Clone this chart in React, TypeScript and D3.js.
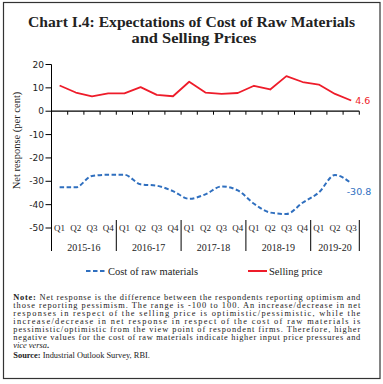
import React from "react";
import * as d3 from "d3";

const quarters = ["Q1","Q2","Q3","Q4","Q1","Q2","Q3","Q4","Q1","Q2","Q3","Q4","Q1","Q2","Q3","Q4","Q1","Q2","Q3"];
const years = ["2015-16","2016-17","2017-18","2018-19","2019-20"];
const yearSpans = [4,4,4,4,3];
const costRaw = [-32.6,-32.6,-27.7,-27.2,-27.2,-31.3,-31.9,-34.2,-37.5,-35.6,-32.2,-33.9,-39.6,-43.4,-44.0,-39.2,-34.8,-27.3,-30.8];
const sellingPrice = [11.0,8.0,6.4,7.6,7.6,10.3,7.0,6.4,12.6,8.0,7.4,7.8,10.9,9.3,15.0,12.5,11.4,7.4,4.6];
const yTicks = [20,10,0,-10,-20,-30,-40,-50];
const noteLines = [
  "Net response is the difference between the respondents reporting optimism and",
  "those reporting pessimism. The range is -100 to 100. An increase/decrease in net",
  "responses in respect of the selling price is optimistic/pessimistic, while the",
  "increase/decrease in net response in respect of the cost of raw materials is",
  "pessimistic/optimistic from the view point of respondent firms. Therefore, higher",
  "negative values for the cost of raw materials indicate higher input price pressures and",
];

const BLUE = "#2f6fbf";
const RED = "#ee1c2a";
const SERIF = "'Liberation Serif', 'DejaVu Serif', serif";
const SANS = "'DejaVu Sans', 'Liberation Sans', sans-serif";

export default function App() {
  const W = 383, H = 384;
  const x0 = 51.5, x1 = 359.3;
  const idx = quarters.map((_, i) => i);
  const x = d3.scaleBand<number>().domain(idx).range([x0, x1]).padding(0);
  const y = d3.scaleLinear().domain([-50, 20]).range([228, 64.5]);
  const cx = (i: number) => (x(i) as number) + x.bandwidth() / 2;

  const redLine = d3.line<number>().x((_, i) => cx(i)).y((d) => y(d))(sellingPrice) || "";
  const blueLine = d3.line<number>().x((_, i) => cx(i)).y((d) => y(d)).curve(d3.curveMonotoneX)(costRaw) || "";

  const yearBounds: number[] = [];
  let acc = 0;
  yearSpans.forEach((s) => { yearBounds.push(acc); acc += s; });

  const n = quarters.length;
  const noteY0 = 299.5;
  const lh = 8.1;

  return (
    <svg width={W} height={H} style={{ position: "absolute", left: 0, top: 0 }}>
      <rect x={0} y={0} width={W} height={H} fill="#fff" />
      <rect x={3.5} y={2.5} width={376.5} height={376} fill="none" stroke="#333" strokeWidth={1.2} />
      <text x={191.5} y={26.5} textAnchor="middle" fontFamily={SERIF} fontWeight="bold" fontSize={15} fill="#222" textLength={327} lengthAdjust="spacingAndGlyphs">Chart I.4: Expectations of Cost of Raw Materials</text>
      <text x={194} y={42.5} textAnchor="middle" fontFamily={SERIF} fontWeight="bold" fontSize={15} fill="#222" textLength={125} lengthAdjust="spacingAndGlyphs">and Selling Prices</text>

      {/* y axis */}
      <line x1={x0} x2={x0} y1={y(20)} y2={251} stroke="#000" strokeWidth={1} />
      {yTicks.map((t) => (
        <g key={t}>
          <line x1={x0 - 6} x2={x0} y1={y(t)} y2={y(t)} stroke="#000" strokeWidth={1} />
          <text x={x0 - 7.5} y={y(t)} dy="0.35em" textAnchor="end" fontFamily={SANS} fontSize={9} fill="#222">{t}</text>
        </g>
      ))}
      <text transform={`translate(16,140.5) rotate(-90)`} textAnchor="middle" dy="0.35em" fontFamily={SERIF} fontSize={10.5} fill="#222">Net response (per cent)</text>

      {/* x axis at zero */}
      <line x1={x0} x2={x1} y1={y(0)} y2={y(0)} stroke="#000" strokeWidth={1.2} />
      {idx.map((i) => (
        <line key={i} x1={(x(i) as number) + x.bandwidth()} x2={(x(i) as number) + x.bandwidth()} y1={y(0)} y2={y(0) + 3.5} stroke="#000" strokeWidth={1} />
      ))}
      {quarters.map((q, i) => (
        <text key={i} x={cx(i)} y={228} dy="0.35em" textAnchor="middle" fontFamily={SERIF} fontSize={9} fill="#222">{q}</text>
      ))}
      {yearBounds.slice(1).map((b, k) => (
        <line key={k} x1={x(b) as number} x2={x(b) as number} y1={220} y2={251} stroke="#000" strokeWidth={1} />
      ))}
      <line x1={x1} x2={x1} y1={220} y2={251} stroke="#000" strokeWidth={1} />
      {years.map((yr, k) => {
        const s = yearBounds[k];
        const e = s + yearSpans[k];
        const start = x(s) as number;
        const end = e >= n ? x1 : (x(e) as number);
        return (
          <text key={yr} x={(start + end) / 2} y={247.5} dy="0.35em" textAnchor="middle" fontFamily={SERIF} fontSize={10} fill="#222">{yr}</text>
        );
      })}

      {/* lines */}
      <path d={redLine} fill="none" stroke={RED} strokeWidth={1.8} strokeLinejoin="round" />
      <path d={blueLine} fill="none" stroke={BLUE} strokeWidth={2} strokeDasharray="4.5,2.5" />
      <text x={cx(n - 1) + 4} y={y(sellingPrice[n - 1])} dy="0.35em" fontFamily={SANS} fontSize={9.5} fill={RED}>{sellingPrice[n - 1]}</text>
      <text x={cx(n - 1) - 4.5} y={y(costRaw[n - 1]) + 9} dy="0.35em" fontFamily={SANS} fontSize={9.5} fill={BLUE}>{costRaw[n - 1]}</text>

      {/* legend */}
      <line x1={86} x2={106} y1={271} y2={271} stroke={BLUE} strokeWidth={2} strokeDasharray="4.5,2.5" />
      <text x={108} y={271} dy="0.35em" fontFamily={SERIF} fontSize={10.5} fill="#222">Cost of raw materials</text>
      <line x1={248} x2={267} y1={271} y2={271} stroke={RED} strokeWidth={2} />
      <text x={269} y={271} dy="0.35em" fontFamily={SERIF} fontSize={10.5} fill="#222">Selling price</text>

      {/* note */}
      {noteLines.map((l, k) => (
        <text key={k} x={13.3} y={noteY0 + k * lh} fontFamily={SERIF} fontSize={8.4} fill="#222" textLength={347} lengthAdjust="spacing">
          {k === 0 ? <tspan fontWeight="bold">Note: </tspan> : null}
          {l}
        </text>
      ))}
      <text x={13.3} y={noteY0 + 6 * lh} fontFamily={SERIF} fontSize={8.4} fill="#222">
        <tspan fontStyle="italic">vice versa</tspan><tspan fontWeight="bold">.</tspan>
      </text>
      <text x={13.3} y={noteY0 + 7 * lh + 2.2} fontFamily={SERIF} fontSize={8.4} fill="#222">
        <tspan fontWeight="bold">Source: </tspan>Industrial Outlook Survey, RBI.
      </text>
    </svg>
  );
}
